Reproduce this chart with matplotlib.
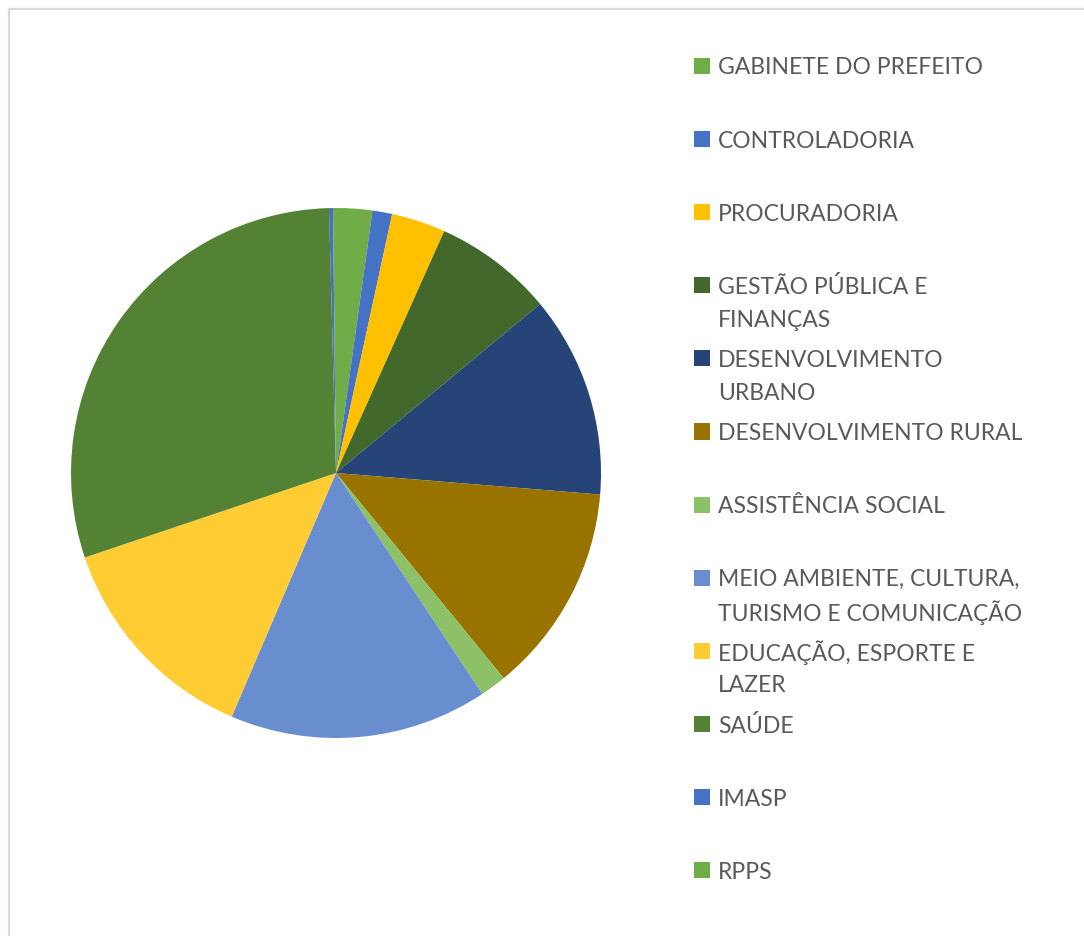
import matplotlib
matplotlib.use("Agg")
import matplotlib.pyplot as plt
from matplotlib.lines import Line2D
from matplotlib.patches import Rectangle

# Budget share by department (%), clockwise from 12 o'clock
categories = [
    "GABINETE DO PREFEITO",
    "CONTROLADORIA",
    "PROCURADORIA",
    "GESTÃO PÚBLICA E\nFINANÇAS",
    "DESENVOLVIMENTO\nURBANO",
    "DESENVOLVIMENTO RURAL",
    "ASSISTÊNCIA SOCIAL",
    "MEIO AMBIENTE, CULTURA,\nTURISMO E COMUNICAÇÃO",
    "EDUCAÇÃO, ESPORTE E\nLAZER",
    "SAÚDE",
    "IMASP",
    "RPPS",
]
shares = [2.2, 1.2, 3.3, 7.3, 12.3, 12.8, 1.6, 15.75, 13.4, 29.75, 0.24, 0.18]
colors = [
    "#70AD47", "#4472C4", "#FFC000", "#43682B", "#264478", "#997300",
    "#8CC168", "#698ED0", "#FFCD33", "#548235", "#4472C4", "#70AD47",
]

W, H = 1084, 936
fig = plt.figure(figsize=(W / 100, H / 100), dpi=100)
fig.patch.set_facecolor("white")

# chart area frame (top and left edges)
fig.add_artist(Line2D([8.5 / W, 1.0], [1 - 8.5 / H, 1 - 8.5 / H],
                      transform=fig.transFigure, color="#D9D9D9", lw=1.6))
fig.add_artist(Line2D([8.5 / W, 8.5 / W], [0.0, 1 - 8.5 / H],
                      transform=fig.transFigure, color="#D9D9D9", lw=1.6))

# pie
cx, cy, r = 336, 473, 265
ax = fig.add_axes([(cx - r) / W, (H - cy - r) / H, 2 * r / W, 2 * r / H])
ax.pie(shares, colors=colors, startangle=90, counterclock=False,
       wedgeprops=dict(linewidth=0), radius=1.0)
ax.set_xlim(-1, 1)
ax.set_ylim(-1, 1)
ax.set_aspect("equal")
ax.axis("off")

# legend
y0, dy, line_h = 66, 73.1, 33
box = 16
for i, (label, col) in enumerate(zip(categories, colors)):
    yc = y0 + i * dy
    fig.add_artist(Rectangle(((702 - box / 2) / W, (H - yc - box / 2) / H),
                             box / W, box / H, transform=fig.transFigure,
                             facecolor=col, edgecolor="none"))
    for k, line in enumerate(label.split("\n")):
        fig.text(718 / W, (H - (yc + k * line_h)) / H, line,
                 family="Lato", fontsize=16.5, color="#595959",
                 ha="left", va="center_baseline")

fig.savefig("out.png", dpi=100, facecolor="white")
